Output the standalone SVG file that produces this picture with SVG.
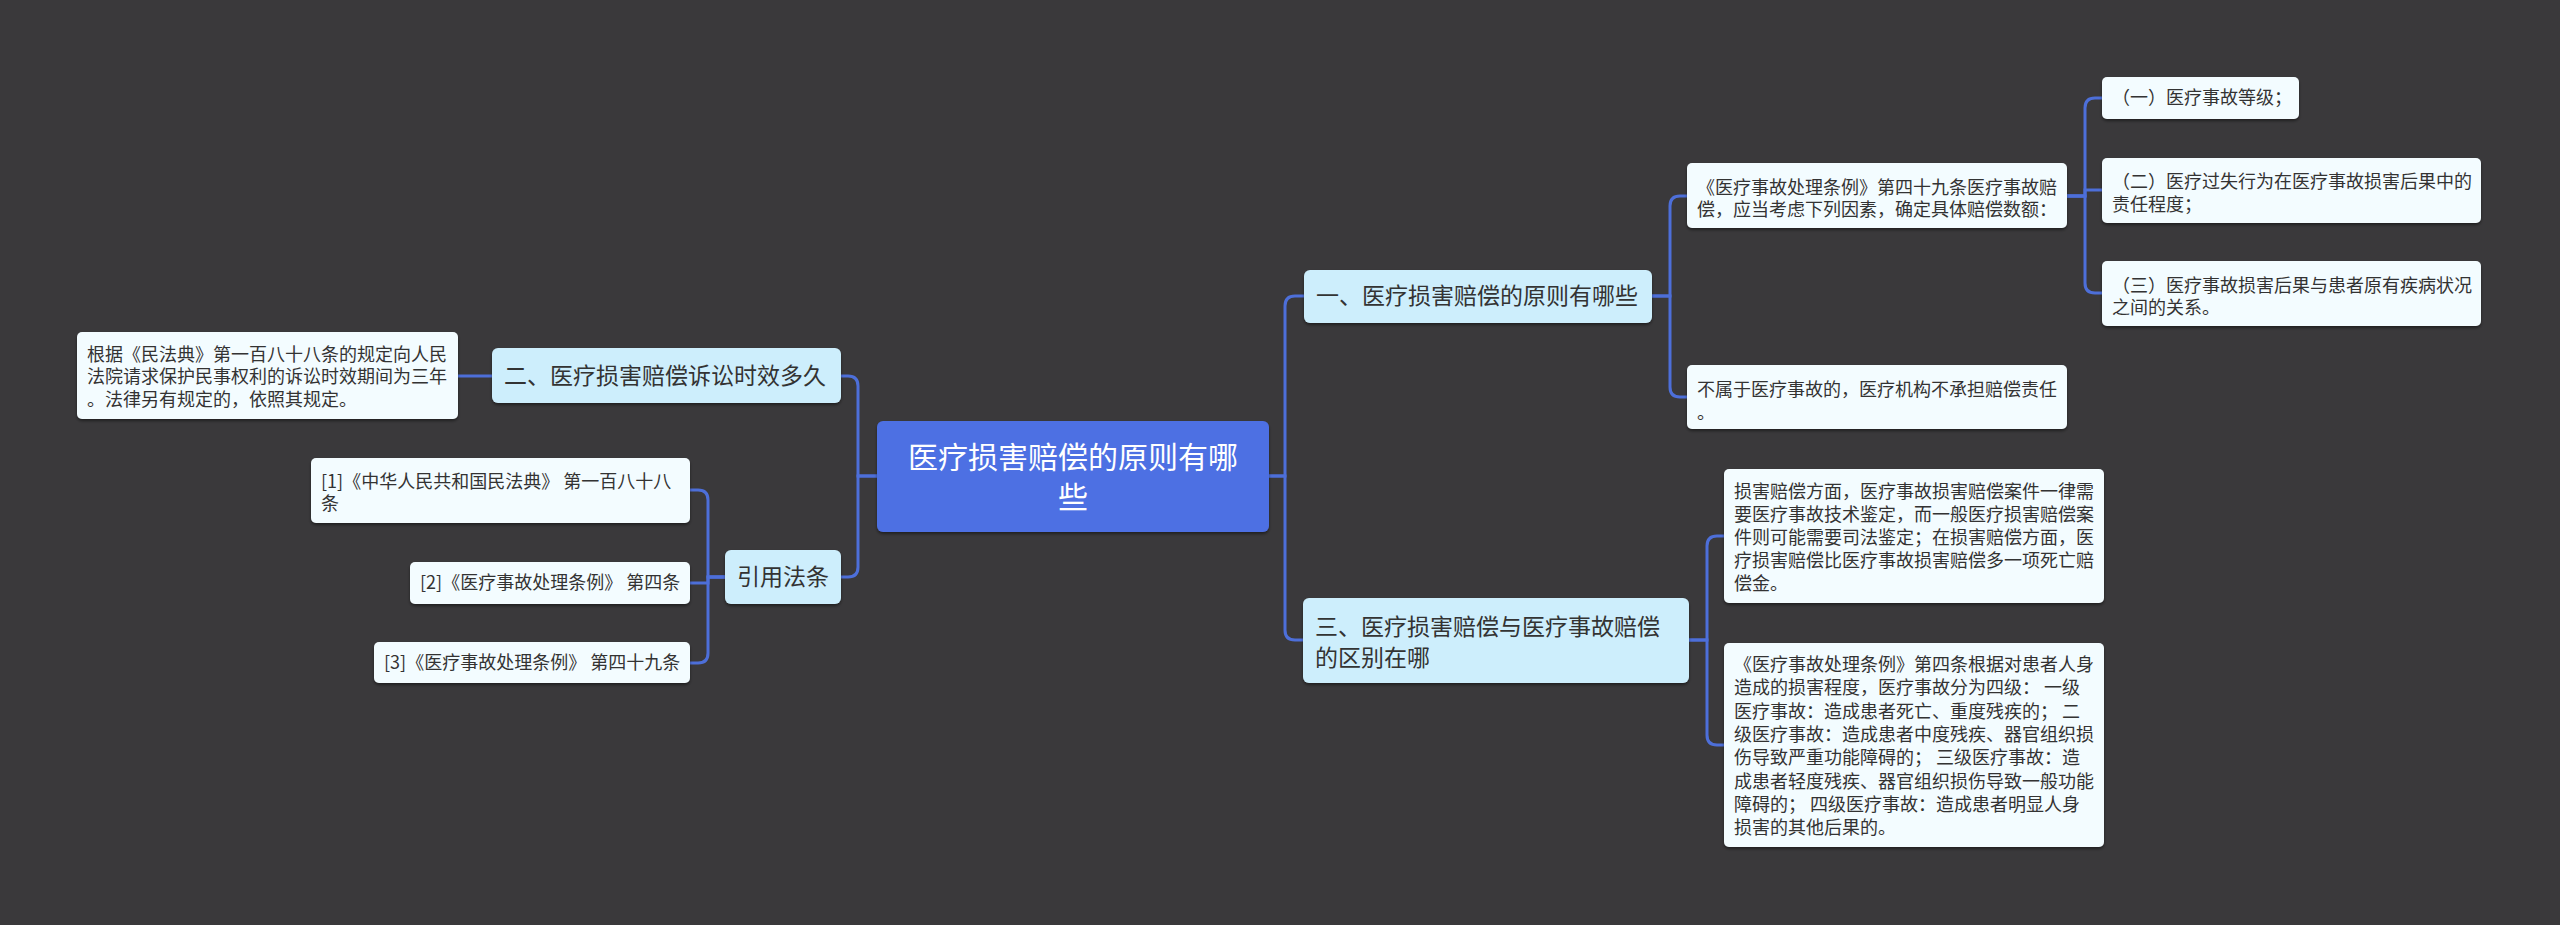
<svg xmlns="http://www.w3.org/2000/svg" width="2560" height="925" viewBox="0 0 2560 925">
<defs>
<filter id="sh" x="-5%" y="-10%" width="110%" height="130%"><feDropShadow dx="0" dy="2" stdDeviation="1.5" flood-color="#000" flood-opacity="0.45"/></filter>
<style>
text{font-family:"Noto Sans CJK SC","Noto Sans",sans-serif;fill:#333}
.leaf rect{fill:#f3fcff;filter:url(#sh)}
.leaf text{font-size:18px}
.l1 rect{fill:#cdeefc;filter:url(#sh)}
.l1 text{font-size:23px}
.c rect{fill:#4d6fe3;filter:url(#sh)}
.c text{font-size:30px;fill:#fff}
#conn path{fill:none;stroke:#4d6fd9;stroke-width:3}
</style>
</defs>
<rect width="2560" height="925" fill="#3a393b"/>
<g id="conn">
<path d="M1269 476 H1285 V306 Q1285 296 1295 296 H1304"/>
<path d="M1269 476 H1285 V630 Q1285 640 1295 640 H1303"/>
<path d="M877 476 H858 V386 Q858 376 848 376 H841"/>
<path d="M877 476 H858 V567 Q858 577 848 577 H841"/>
<path d="M1652 296 H1670 V206 Q1670 196 1680 196 H1687"/>
<path d="M1652 296 H1670 V387 Q1670 397 1680 397 H1687"/>
<path d="M2067 196 H2085 V108 Q2085 98 2095 98 H2102"/>
<path d="M2067 196 H2085 V190 Q2085 190 2095 190 H2102"/>
<path d="M2067 196 H2085 V283 Q2085 293 2095 293 H2102"/>
<path d="M1689 640 H1707 V546 Q1707 536 1717 536 H1724"/>
<path d="M1689 640 H1707 V735 Q1707 745 1717 745 H1724"/>
<path d="M492 376 H458"/>
<path d="M725 577 H708 V500 Q708 490 698 490 H690"/>
<path d="M725 577 H708 V583 H690"/>
<path d="M725 577 H708 V653 Q708 663 698 663 H690"/>
</g>
<g id="center" class="c"><rect x="877" y="421" width="392" height="111" rx="6"/><text x="1073" y="468" text-anchor="middle">医疗损害赔偿的原则有哪</text><text x="1073" y="508" text-anchor="middle">些</text></g>
<g id="n1" class="l1"><rect x="1304" y="270" width="348" height="53" rx="6"/><text x="1316" y="304">一、医疗损害赔偿的原则有哪些</text></g>
<g id="n1a" class="leaf"><rect x="1687" y="163" width="380" height="65" rx="5"/><text x="1697" y="194">《医疗事故处理条例》第四十九条医疗事故赔</text><text x="1697" y="216">偿，应当考虑下列因素，确定具体赔偿数额：</text></g>
<g id="n1a1" class="leaf"><rect x="2102" y="77" width="197" height="42" rx="5"/><text x="2112" y="104">（一）医疗事故等级；</text></g>
<g id="n1a2" class="leaf"><rect x="2102" y="158" width="379" height="65" rx="5"/><text x="2112" y="188">（二）医疗过失行为在医疗事故损害后果中的</text><text x="2112" y="211">责任程度；</text></g>
<g id="n1a3" class="leaf"><rect x="2102" y="261" width="379" height="65" rx="5"/><text x="2112" y="292">（三）医疗事故损害后果与患者原有疾病状况</text><text x="2112" y="314">之间的关系。</text></g>
<g id="n1b" class="leaf"><rect x="1687" y="365" width="380" height="64" rx="5"/><text x="1697" y="396">不属于医疗事故的，医疗机构不承担赔偿责任</text><text x="1697" y="419">。</text></g>
<g id="n3" class="l1"><rect x="1303" y="598" width="386" height="85" rx="6"/><text x="1315" y="635">三、医疗损害赔偿与医疗事故赔偿</text><text x="1315" y="666">的区别在哪</text></g>
<g id="n3a" class="leaf"><rect x="1724" y="469" width="380" height="134" rx="5"/><text x="1734" y="498">损害赔偿方面，医疗事故损害赔偿案件一律需</text><text x="1734" y="521">要医疗事故技术鉴定，而一般医疗损害赔偿案</text><text x="1734" y="544">件则可能需要司法鉴定；在损害赔偿方面，医</text><text x="1734" y="567">疗损害赔偿比医疗事故损害赔偿多一项死亡赔</text><text x="1734" y="590">偿金。</text></g>
<g id="n3b" class="leaf"><rect x="1724" y="643" width="380" height="204" rx="5"/><text x="1734" y="671">《医疗事故处理条例》第四条根据对患者人身</text><text x="1734" y="694">造成的损害程度，医疗事故分为四级： 一级</text><text x="1734" y="718">医疗事故：造成患者死亡、重度残疾的； 二</text><text x="1734" y="741">级医疗事故：造成患者中度残疾、器官组织损</text><text x="1734" y="764">伤导致严重功能障碍的； 三级医疗事故：造</text><text x="1734" y="788">成患者轻度残疾、器官组织损伤导致一般功能</text><text x="1734" y="811">障碍的； 四级医疗事故：造成患者明显人身</text><text x="1734" y="834">损害的其他后果的。</text></g>
<g id="n2" class="l1"><rect x="492" y="348" width="349" height="55" rx="6"/><text x="504" y="384">二、医疗损害赔偿诉讼时效多久</text></g>
<g id="n2a" class="leaf"><rect x="77" y="332" width="381" height="87" rx="5"/><text x="87" y="361">根据《民法典》第一百八十八条的规定向人民</text><text x="87" y="383">法院请求保护民事权利的诉讼时效期间为三年</text><text x="87" y="406">。法律另有规定的，依照其规定。</text></g>
<g id="n4" class="l1"><rect x="725" y="550" width="116" height="54" rx="6"/><text x="737" y="585">引用法条</text></g>
<g id="n4a" class="leaf"><rect x="311" y="458" width="379" height="65" rx="5"/><text x="321" y="488">[1]《中华人民共和国民法典》 第一百八十八</text><text x="321" y="510">条</text></g>
<g id="n4b" class="leaf"><rect x="410" y="562" width="280" height="42" rx="5"/><text x="420" y="589">[2]《医疗事故处理条例》 第四条</text></g>
<g id="n4c" class="leaf"><rect x="374" y="642" width="316" height="41" rx="5"/><text x="384" y="669">[3]《医疗事故处理条例》 第四十九条</text></g>
</svg>
